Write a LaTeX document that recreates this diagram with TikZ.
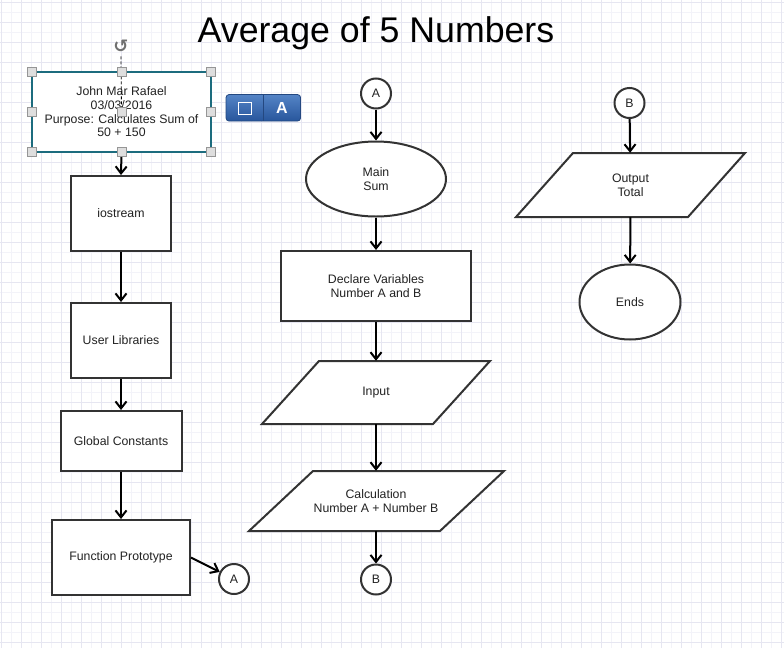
\documentclass[tikz,border=0pt]{standalone}
\usepackage{fontspec}
\setmainfont{Liberation Sans}
\newfontfamily\symfont{DejaVu Sans}
\usetikzlibrary{shapes.geometric, arrows.meta}

\definecolor{gridminor}{RGB}{243,243,249}
\definecolor{gridmajor}{RGB}{230,230,241}
\definecolor{shapeline}{RGB}{51,51,51}
\definecolor{noteline}{RGB}{28,108,126}
\definecolor{handlefill}{RGB}{222,222,222}
\definecolor{handleline}{RGB}{150,150,150}
\definecolor{barlight}{RGB}{84,132,198}
\definecolor{bardark}{RGB}{40,86,156}
\definecolor{barline}{RGB}{36,72,128}
\definecolor{textgrey}{RGB}{34,34,34}
\definecolor{icongrey}{RGB}{112,112,112}

\begin{document}
\begin{tikzpicture}[x = 1pt, y = -1pt,
    >={Straight Barb[length = 7pt, width = 11pt]},
    gridline/.style = {draw = gridminor, line width = .8pt},
    gridbold/.style = {draw = gridmajor, line width = 1pt},
    base/.style = {inner sep = 0pt, align = center, text = textgrey,
        font = \fontsize{12.3}{13.7}\selectfont},
    process/.style 2 args = {base, rectangle, draw = shapeline, line width = 2pt,
        fill = white, minimum width = #1, minimum height = #2},
    terminal/.style 2 args = {base, ellipse, draw = shapeline, line width = 2pt,
        fill = white, minimum width = #1, minimum height = #2},
    iobox/.style 2 args = {base, rectangle, minimum width = #1, minimum height = #2},
    ioline/.style = {draw = shapeline, line width = 2pt, fill = white, line join = miter},
    connector/.style = {base, circle, draw = shapeline, line width = 2pt,
        fill = white, minimum size = 30pt},
    flow/.style = {->, line width = 2pt, black},
    handle/.style = {rectangle, draw = handleline, fill = handlefill, line width = .8pt,
        minimum size = 9pt, inner sep = 0pt}]

    % Draw the paper and its grid:
    \fill [white] (0,0) rectangle (784,648);
    \useasboundingbox (0,0) rectangle (784,648);
    \foreach \gx in {1.5, 11.5, ..., 781.5}
        \draw [gridline] (\gx,0) -- (\gx,648);
    \foreach \gy in {2, 12, ..., 642}
        \draw [gridline] (0,\gy) -- (784,\gy);
    \foreach \gx in {1.5, 21.5, ..., 781.5}
        \draw [gridbold] (\gx,0) -- (\gx,648);
    \foreach \gy in {2, 22, ..., 642}
        \draw [gridbold] (0,\gy) -- (784,\gy);

    \node [anchor = base, text = black, font = \fontsize{35.7}{40}\selectfont] (title) at (376,42.7) {Average of 5 Numbers};

    % Draw the left column:
    \node [base, rectangle, draw = noteline, line width = 1.3pt, fill = white,
        minimum width = 179pt, minimum height = 80pt] (note) at (121.5,112)
        {John Mar Rafael\\03/03/2016\\Purpose: Calculates Sum of\\50 + 150};
    \node [process = {100pt}{75pt}] (ios) at (121,213.5) {iostream};
    \node [process = {100pt}{75pt}] (ulib) at (121,340.5) {User Libraries};
    \node [process = {121pt}{60pt}] (gconst) at (121,441) {Global Constants};
    \node [process = {138pt}{75pt}] (fproto) at (121,557.5) {Function Prototype};
    \node [connector] (conA2) at (234,579) {A};

    % Draw the middle column:
    \node [connector] (conA1) at (376,93.5) {A};
    \node [terminal = {140pt}{75pt}] (mainsum) at (376,179) {Main\\Sum};
    \node [process = {190pt}{70pt}] (declare) at (376,286) {Declare Variables\\Number A and B};
    \draw [ioline] (262,424) -- (319,361) -- (490,361) -- (433,424) -- cycle;
    \node [iobox = {228pt}{63pt}] (input) at (376,392.5) {Input};
    \draw [ioline] (249,531) -- (313,471) -- (504,471) -- (440,531) -- cycle;
    \node [iobox = {255pt}{60pt}] (calc) at (376,501) {Calculation\\Number A + Number B};
    \node [connector] (conB1) at (376,579.5) {B};

    % Draw the right column:
    \node [connector] (conB2) at (629.5,103) {B};
    \draw [ioline] (516,217) -- (573,153) -- (745,153) -- (688,217) -- cycle;
    \node [iobox = {229pt}{64pt}] (output) at (630.5,185) {Output\\Total};
    \node [terminal = {101pt}{75pt}] (ends) at (630,302) {Ends};

    % Draw the flow lines:
    \draw [flow] (note.south) -- (ios.north);
    \draw [flow] (ios.south) -- (ulib.north);
    \draw [flow] (ulib.south) -- (gconst.north);
    \draw [flow] (gconst.south) -- (fproto.north);
    \draw [flow] (fproto.east) -- (conA2);
    \draw [flow] (conA1) -- (mainsum);
    \draw [flow] (mainsum) -- (declare);
    \draw [flow] (declare) -- (input);
    \draw [flow] (input) -- (calc);
    \draw [flow] (calc) -- (conB1);
    \draw [flow] (conB2) -- (output);
    \draw [flow] (output) -- (ends);

    % Draw the selection of the note:
    \node [text = icongrey, font = \symfont\bfseries\fontsize{18}{18}\selectfont] (rotate) at (121,46.5) {↺};
    \draw [black, line width = .8pt, dash pattern = on 3pt off 2pt] (rotate.south) -- (note.center);
    \foreach \hx in {32, 121.5, 211}
        \foreach \hy in {72, 112, 152}
            \node [handle] (h-\hx-\hy) at (\hx,\hy) {};

    % Draw the toolbar:
    \node [rectangle, rounded corners = 3pt, top color = barlight, bottom color = bardark,
        draw = barline, line width = .8pt, minimum width = 74.5pt, minimum height = 26.5pt,
        inner sep = 0pt] (toolbar) at (263.3,107.8) {};
    \draw [barline, line width = .8pt] (toolbar.north) -- (toolbar.south);
    \node [rectangle, draw = white, line width = 1pt, minimum size = 12.5pt, inner sep = 0pt] (tbbox) at (245,108.3) {};
    \node [text = white, font = \fontsize{16}{16}\selectfont\bfseries] (tbtext) at (282,108) {A};
\end{tikzpicture}
\end{document}
